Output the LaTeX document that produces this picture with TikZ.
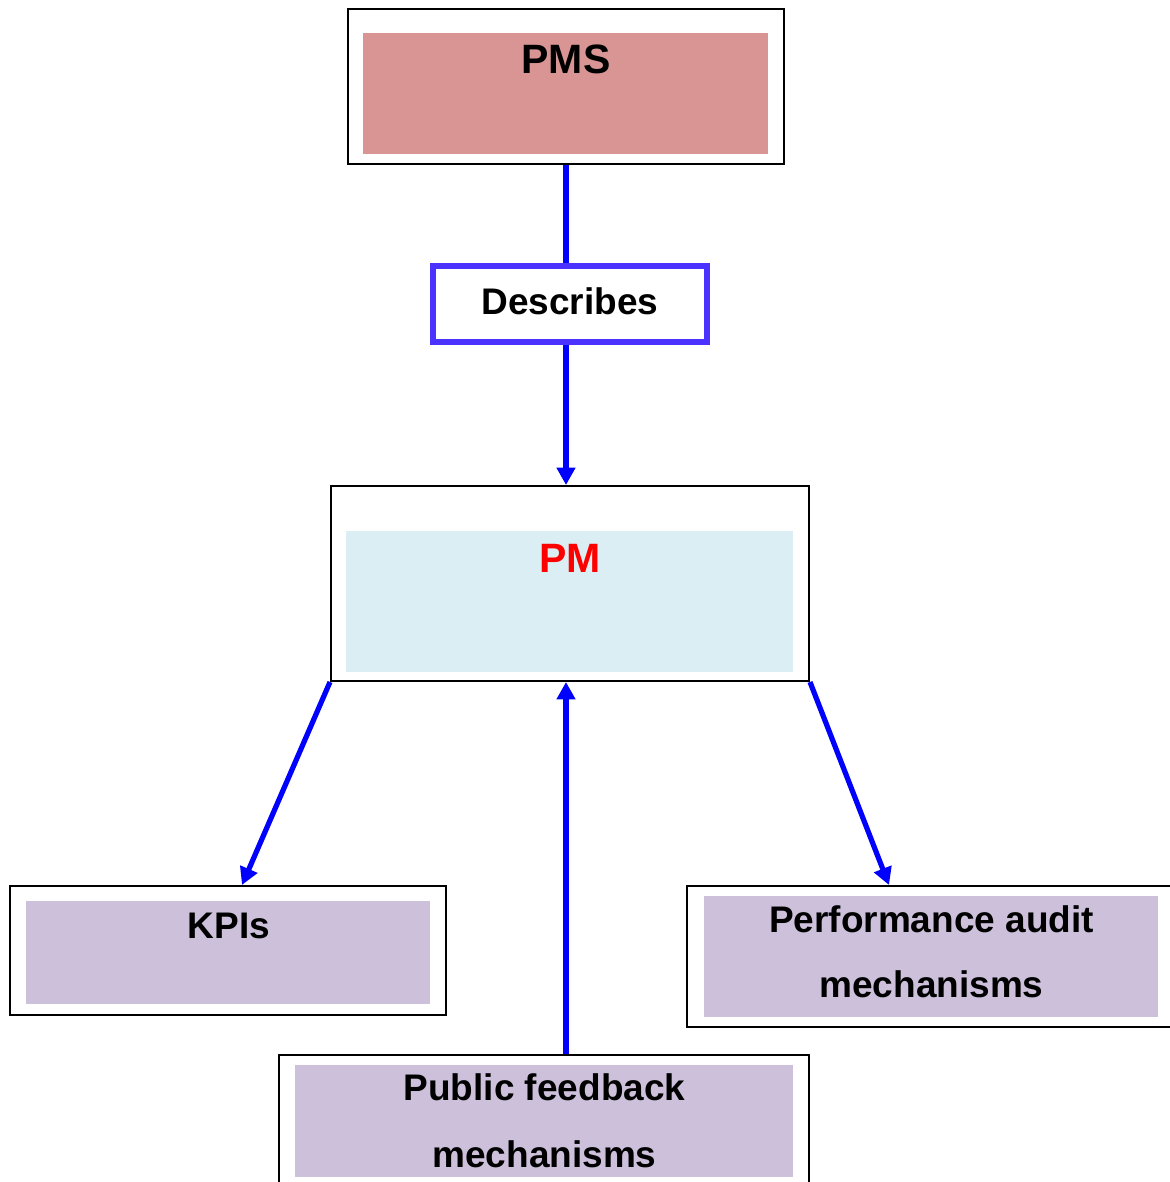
\documentclass[tikz,border=0pt]{standalone}
\usepackage{fontspec}
\setmainfont{Liberation Sans}
\usetikzlibrary{arrows.meta,fit,calc}

\definecolor{rosefill}{HTML}{D99594}
\definecolor{iceblue}{HTML}{DAEEF3}
\definecolor{lilac}{HTML}{CCC0DA}
\definecolor{flowblue}{RGB}{0,0,255}
\definecolor{framepurple}{RGB}{75,50,255}

\tikzset{
  outerbox/.style={draw=black, line width=1.5pt, fill=white, inner sep=0pt},
  innerbox/.style={inner sep=0pt},
  bigtitle/.style={font=\fontsize{30.75}{36}\selectfont\bfseries, inner sep=0pt, anchor=base},
  label/.style={font=\fontsize{27.75}{33}\selectfont\bfseries, inner sep=0pt, anchor=base},
  relbox/.style={draw=framepurple, line width=4.5pt, fill=white, inner sep=0pt},
  flow/.style={draw=flowblue, line width=3.9pt},
  flowarrow/.style={flow, -{Triangle[length=13pt,width=13.5pt]}},
}

\begin{document}
\begin{tikzpicture}[x=0.75pt,y=-0.75pt]
  \useasboundingbox (0,0) rectangle (1170,1182);
  \clip (0,0) rectangle (1170,1182);

  % top: performance management system
  \node[outerbox, fit={(348,9)(784,164)}] (pms) {};
  \node[innerbox, fill=rosefill, fit={(363,33)(768,154)}] (pmsin) {};
  \node[bigtitle] (pmstext) at (566,73) {PMS};

  % relation label
  \node[relbox, fit={(433,266)(707,342)}] (desc) {};
  \node[label] (desctext) at (570,314) {Describes};

  % performance management
  \node[outerbox, fit={(331,486)(809,681)}] (pm) {};
  \node[innerbox, fill=iceblue, fit={(346,531)(793,672)}] (pmin) {};
  \node[bigtitle, text=red] (pmtext) at (570,572) {PM};

  % key performance indicators
  \node[outerbox, fit={(10,886)(446,1015)}] (kpi) {};
  \node[innerbox, fill=lilac, fit={(26,901)(430,1004)}] (kpiin) {};
  \node[label] (kpitext) at (229,938) {KPIs};

  % performance audit mechanisms
  \node[outerbox, fit={(687,886)(1178,1027)}] (audit) {};
  \node[innerbox, fill=lilac, fit={(704,896)(1158,1017)}] (auditin) {};
  \node[label] (audittexta) at (931.5,932) {Performance audit};
  \node[label] (audittextb) at (931.5,997) {mechanisms};

  % public feedback mechanisms
  \node[outerbox, fit={(279,1055)(809,1195)}] (pfb) {};
  \node[innerbox, fill=lilac, fit={(295,1065)(793,1177)}] (pfbin) {};
  \node[label] (pfbtexta) at (544.5,1100) {Public feedback};
  \node[label] (pfbtextb) at (544.5,1167) {mechanisms};

  % connectors
  \draw[flow] (pms.south) -- (desc.north -| pms.south);
  \draw[flowarrow] (desc.south -| pms.south) -- (pm.north -| pms.south);
  \draw[flowarrow] (pm.south west) -- ($(kpi.north)+(14,0)$);
  \draw[flowarrow] (pm.south east) -- ($(audit.north)+(-43.5,0)$);
  \draw[flowarrow] (pfb.north -| pms.south) -- (pm.south -| pms.south);
\end{tikzpicture}
\end{document}
